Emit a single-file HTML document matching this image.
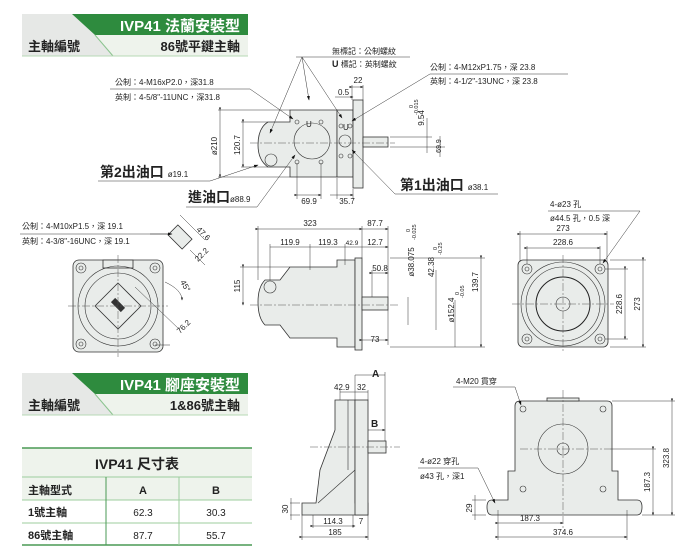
<!DOCTYPE html>
<html><head><meta charset="utf-8"><style>
html,body{margin:0;padding:0;background:#fff}
svg{display:block}
text{font-family:"Liberation Sans","Noto Sans CJK TC",sans-serif;fill:#222}
.s{font-size:8px}
.m{font-size:9px}
.b{font-weight:bold}
.body{fill:#e9ecea;stroke:#333;stroke-width:.8}
.ln{stroke:#333;stroke-width:.6;fill:none}
.c{stroke:#555;stroke-width:.5;stroke-dasharray:8 2 2 2;fill:none}
.d{stroke:#333;stroke-width:.5;fill:none}
</style></head><body>
<svg width="700" height="557" viewBox="0 0 700 557" xmlns="http://www.w3.org/2000/svg">
<defs><marker id="a" markerWidth="6" markerHeight="6" refX="5" refY="3" orient="auto"><path d="M0,0.8 L6,3 L0,5.2z" fill="#222"/></marker>
<marker id="ar" markerWidth="9" markerHeight="7" refX="8" refY="3.5" orient="auto"><path d="M0,0.5 L9,3.5 L0,6.5z" fill="#111"/></marker></defs>

<!-- Header 1 -->
<rect x="22" y="14" width="226" height="42" fill="#e6e8e6"/>
<polygon points="72,14 248,14 248,35 95,35" fill="#2e8b3e"/>
<polygon points="95,35 248,35 248,56 113,56" fill="#eef3ec"/>
<line x1="95" y1="35" x2="113" y2="56" stroke="#8bc48f" stroke-width="1"/>
<line x1="22" y1="56" x2="248" y2="56" stroke="#b7d8b5" stroke-width="1"/>
<text x="240" y="31" text-anchor="end" font-size="15" class="b" style="fill:#fff">IVP41 法蘭安裝型</text>
<text x="28" y="51" font-size="13" class="b">主軸編號</text>
<text x="240" y="51" text-anchor="end" font-size="13" class="b">86號平鍵主軸</text>

<!-- Header 2 -->
<rect x="22" y="373" width="226" height="42" fill="#e6e8e6"/>
<polygon points="72,373 248,373 248,394 95,394" fill="#2e8b3e"/>
<polygon points="95,394 248,394 248,415 113,415" fill="#eef3ec"/>
<line x1="95" y1="394" x2="113" y2="415" stroke="#8bc48f" stroke-width="1"/>
<line x1="22" y1="415" x2="248" y2="415" stroke="#b7d8b5" stroke-width="1"/>
<text x="240" y="390" text-anchor="end" font-size="15" class="b" style="fill:#fff">IVP41 腳座安裝型</text>
<text x="28" y="410" font-size="13" class="b">主軸編號</text>
<text x="240" y="410" text-anchor="end" font-size="13" class="b">1&amp;86號主軸</text>

<!-- Table -->
<rect x="22" y="448" width="230" height="97" fill="#eef3ec"/>
<rect x="22" y="500" width="230" height="45" fill="#fff"/>
<line x1="22" y1="448" x2="252" y2="448" stroke="#4a9a55" stroke-width="1.5"/>
<line x1="22" y1="477" x2="252" y2="477" stroke="#9ccc9e" stroke-width="1"/>
<line x1="22" y1="500" x2="252" y2="500" stroke="#9ccc9e" stroke-width="1"/>
<line x1="22" y1="523" x2="252" y2="523" stroke="#9ccc9e" stroke-width="1"/>
<line x1="22" y1="545" x2="252" y2="545" stroke="#4a9a55" stroke-width="1.5"/>
<line x1="106" y1="477" x2="106" y2="545" stroke="#4a9a55" stroke-width="1"/>
<line x1="179" y1="477" x2="179" y2="545" stroke="#9ccc9e" stroke-width="1"/>
<text x="137" y="469" text-anchor="middle" font-size="14" class="b">IVP41 尺寸表</text>
<text x="28" y="494" font-size="11" class="b">主軸型式</text>
<text x="143" y="494" text-anchor="middle" font-size="11" class="b">A</text>
<text x="216" y="494" text-anchor="middle" font-size="11" class="b">B</text>
<text x="28" y="516" font-size="11" class="b">1號主軸</text>
<text x="143" y="516" text-anchor="middle" font-size="10">62.3</text>
<text x="216" y="516" text-anchor="middle" font-size="10">30.3</text>
<text x="28" y="539" font-size="11" class="b">86號主軸</text>
<text x="143" y="539" text-anchor="middle" font-size="10">87.7</text>
<text x="216" y="539" text-anchor="middle" font-size="10">55.7</text>

<!-- TOP VIEW -->
<g>
<path class="body" d="M268,122 L290,122 L290,110 L337,110 L337,177 L290,177 L290,167 L268,167 Q258,160 258,145 Q258,128 268,122z"/>
<rect class="body" x="337" y="110" width="16" height="67"/>
<rect class="body" x="353" y="100" width="10" height="88"/>
<rect class="body" x="363" y="137" width="25" height="10"/>
<circle class="ln" cx="312" cy="141" r="18"/>
<circle class="ln" cx="345" cy="141" r="6"/>
<circle class="ln" cx="271" cy="160" r="6"/>
<g class="ln"><circle cx="297" cy="122" r="2"/><circle cx="321" cy="122" r="2"/><circle cx="297" cy="162" r="2"/><circle cx="321" cy="162" r="2"/><circle cx="341" cy="126" r="2"/><circle cx="350" cy="126" r="2"/><circle cx="341" cy="156" r="2"/><circle cx="350" cy="156" r="2"/></g>
<text x="306" y="127" class="s">U</text><text x="343" y="130" class="s" font-size="6">U</text>
<line class="c" x1="250" y1="143" x2="395" y2="143"/>
<!-- dims -->
<line class="d" x1="220" y1="110" x2="220" y2="177" marker-start="url(#a)" marker-end="url(#a)"/>
<line class="d" x1="218" y1="110" x2="290" y2="110"/><line class="d" x1="218" y1="177" x2="290" y2="177"/>
<text class="s" transform="translate(217,146) rotate(-90)" text-anchor="middle">ø210</text>
<line class="d" x1="243" y1="122" x2="243" y2="167" marker-start="url(#a)" marker-end="url(#a)"/>
<line class="d" x1="241" y1="122" x2="268" y2="122"/><line class="d" x1="241" y1="167" x2="268" y2="167"/>
<text class="s" transform="translate(240,145) rotate(-90)" text-anchor="middle">120.7</text>
<line class="d" x1="297" y1="163" x2="297" y2="199"/><line class="d" x1="321" y1="163" x2="321" y2="199"/>
<line class="d" x1="297" y1="195" x2="321" y2="195" marker-start="url(#a)" marker-end="url(#a)"/>
<text class="s" x="309" y="204" text-anchor="middle">69.9</text>
<line class="d" x1="337" y1="178" x2="337" y2="199"/><line class="d" x1="353" y1="189" x2="353" y2="199"/>
<line class="d" x1="330" y1="195" x2="353" y2="195" marker-end="url(#a)"/>
<text class="s" x="347" y="204" text-anchor="middle">35.7</text>
<line class="d" x1="352" y1="85" x2="352" y2="100"/><line class="d" x1="363" y1="85" x2="363" y2="100"/>
<line class="d" x1="352" y1="87" x2="363" y2="87" marker-start="url(#a)" marker-end="url(#a)"/>
<text class="s" x="358" y="83" text-anchor="middle">22</text>
<line class="d" x1="335" y1="97" x2="353" y2="97" marker-end="url(#a)"/>
<text class="s" x="338" y="95">0.5</text>
<line class="d" x1="390" y1="137" x2="432" y2="137"/><line class="d" x1="390" y1="147" x2="445" y2="147"/>
<line class="d" x1="427" y1="118" x2="427" y2="153"/>
<text class="s" transform="translate(424,118) rotate(-90)" text-anchor="middle">9.54</text>
<text font-size="5.5" transform="translate(413,108) rotate(-90)">0</text>
<text font-size="5.5" transform="translate(418,115) rotate(-90)">-0.015</text>
<line class="d" x1="440" y1="136" x2="440" y2="157"/>
<text class="s" transform="translate(441,146) rotate(-90)" text-anchor="middle" style="font-size:7px">69.9</text>
<!-- leaders -->
<line class="ln" x1="296" y1="57" x2="410" y2="57"/>
<text class="s" x="332" y="54">無標記：公制螺紋</text>
<text class="s" x="332" y="67"><tspan class="b" font-size="9">U</tspan> 標記：英制螺紋</text>
<line class="d" x1="302" y1="57" x2="270" y2="133" marker-end="url(#ar)"/>
<line class="d" x1="302" y1="57" x2="309" y2="100" marker-end="url(#ar)"/>
<line class="d" x1="302" y1="57" x2="342" y2="118" marker-end="url(#ar)"/>
<line class="ln" x1="430" y1="74" x2="568" y2="74"/>
<text class="s" x="430" y="70">公制：4-M12xP1.75，深 23.8</text>
<text class="s" x="430" y="84">英制：4-1/2"-13UNC，深 23.8</text>
<line class="d" x1="430" y1="74" x2="352" y2="121" marker-end="url(#ar)"/>
<line class="ln" x1="110" y1="89" x2="250" y2="89"/>
<text class="s" x="115" y="85">公制：4-M16xP2.0，深31.8</text>
<text class="s" x="115" y="100">英制：4-5/8"-11UNC，深31.8</text>
<line class="d" x1="250" y1="89" x2="293" y2="119" marker-end="url(#ar)"/>
<text x="100" y="177" font-size="14" class="b">第2出油口 <tspan font-size="8" font-weight="normal">ø19.1</tspan></text>
<line class="ln" x1="98" y1="181" x2="210" y2="181"/>
<line class="d" x1="210" y1="181" x2="258" y2="165" marker-end="url(#ar)"/>
<text x="188" y="202" font-size="14" class="b">進油口<tspan font-size="8" font-weight="normal">ø88.9</tspan></text>
<line class="ln" x1="186" y1="207" x2="257" y2="207"/>
<line class="d" x1="257" y1="207" x2="295" y2="155" marker-end="url(#ar)"/>
<text x="400" y="190" font-size="14" class="b">第1出油口 <tspan font-size="8" font-weight="normal">ø38.1</tspan></text>
<line class="ln" x1="395" y1="194" x2="498" y2="194"/>
<line class="d" x1="395" y1="194" x2="352" y2="150" marker-end="url(#ar)"/>
</g>

<!-- FRONT VIEW (left) -->
<g>
<rect class="body" x="73" y="260" width="90" height="92" rx="6"/>
<rect class="body" x="103" y="260" width="30" height="8"/>
<circle class="ln" cx="118" cy="306" r="40"/>
<circle class="ln" cx="118" cy="306" r="33"/>
<polygon class="body" points="118,283 141,306 118,329 95,306"/>
<rect x="111" y="302" width="14" height="6" fill="#333" transform="rotate(45 118 305)"/>
<g class="ln"><circle cx="81" cy="268" r="5"/><circle cx="81" cy="268" r="2"/><circle cx="155" cy="268" r="5"/><circle cx="155" cy="268" r="2"/><circle cx="81" cy="344" r="5"/><circle cx="81" cy="344" r="2"/><circle cx="155" cy="344" r="5"/><circle cx="155" cy="344" r="2"/></g>
<line class="c" x1="118" y1="255" x2="118" y2="357"/><line class="c" x1="68" y1="306" x2="168" y2="306"/>
<rect class="body" x="170" y="230" width="20" height="14" transform="rotate(45 180 237)"/>
<line class="ln" x1="20" y1="234" x2="170" y2="234"/>
<text class="s" x="22" y="229">公制：4-M10xP1.5，深 19.1</text>
<text class="s" x="22" y="244">英制：4-3/8"-16UNC，深 19.1</text>
<line class="d" x1="150" y1="234" x2="172" y2="234" marker-end="url(#ar)"/>
<line class="d" x1="180" y1="215" x2="205" y2="240"/>
<text class="s" transform="translate(196,230) rotate(45)">47.6</text>
<line class="d" x1="190" y1="250" x2="205" y2="265"/>
<text class="s" transform="translate(198,262) rotate(-45)">22.2</text>
<path class="d" d="M165,282 Q182,290 182,300" marker-end="url(#a)"/>
<text class="s" transform="translate(180,282) rotate(60)">45°</text>
<line class="d" x1="135" y1="287" x2="180" y2="330"/><line class="d" x1="155" y1="345" x2="170" y2="345"/>
<text class="s" transform="translate(180,334) rotate(-45)">76.2</text>
</g>

<!-- SIDE VIEW (middle) -->
<g>
<path class="body" d="M265,280 L280,280 L290,267 L337,267 L337,260 L355,260 L355,347 L337,347 L337,338 L290,338 L280,325 L265,325 Q258,318 258,302 Q258,287 265,280z"/>
<rect class="body" x="355" y="258" width="7" height="92"/>
<rect class="body" x="362" y="297" width="26" height="13"/>
<circle class="ln" cx="270" cy="287" r="6"/>
<line class="c" x1="250" y1="305" x2="400" y2="305"/>
<line class="d" x1="258" y1="226" x2="258" y2="280"/><line class="d" x1="362" y1="226" x2="362" y2="258"/><line class="d" x1="388" y1="226" x2="388" y2="297"/>
<line class="d" x1="258" y1="229" x2="362" y2="229" marker-start="url(#a)" marker-end="url(#a)"/>
<line class="d" x1="362" y1="229" x2="388" y2="229" marker-end="url(#a)"/>
<text class="s" x="310" y="226" text-anchor="middle">323</text><text class="s" x="375" y="226" text-anchor="middle">87.7</text>
<line class="d" x1="270" y1="247" x2="360" y2="247"/>
<line class="d" x1="270" y1="244" x2="270" y2="280"/><line class="d" x1="310" y1="244" x2="310" y2="270"/><line class="d" x1="345" y1="244" x2="345" y2="265"/>
<line class="d" x1="360" y1="247" x2="388" y2="247" marker-end="url(#a)"/>
<text class="s" x="290" y="245" text-anchor="middle">119.9</text><text class="s" x="328" y="245" text-anchor="middle">119.3</text>
<text x="352" y="245" text-anchor="middle" font-size="6.5">42.9</text><text class="s" x="375" y="245" text-anchor="middle">12.7</text>
<line class="d" x1="240" y1="267" x2="290" y2="267"/>
<line class="d" x1="243" y1="267" x2="243" y2="305" marker-start="url(#a)" marker-end="url(#a)"/>
<text class="s" transform="translate(240,286) rotate(-90)" text-anchor="middle">115</text>
<line class="d" x1="372" y1="273" x2="388" y2="273" marker-start="url(#a)" marker-end="url(#a)"/>
<line class="d" x1="372" y1="270" x2="372" y2="297"/>
<text class="s" x="380" y="271" text-anchor="middle">50.8</text>
<line class="d" x1="362" y1="340" x2="388" y2="340" marker-start="url(#a)" marker-end="url(#a)"/>
<line class="d" x1="388" y1="310" x2="388" y2="345"/>
<text class="s" x="375" y="342" text-anchor="middle">73</text>
<line class="d" x1="390" y1="258" x2="485" y2="258"/><line class="d" x1="390" y1="347" x2="485" y2="347"/>
<line class="d" x1="408" y1="297" x2="408" y2="325"/><line class="d" x1="436" y1="270" x2="436" y2="330"/><line class="d" x1="455" y1="300" x2="455" y2="347"/><line class="d" x1="481" y1="258" x2="481" y2="347" marker-start="url(#a)" marker-end="url(#a)"/>
<text class="s" transform="translate(414,262) rotate(-90)" text-anchor="middle">ø38.075</text>
<text font-size="5.5" transform="translate(410,232) rotate(-90)">0</text><text font-size="5.5" transform="translate(416,240) rotate(-90)">-0.025</text>
<text class="s" transform="translate(434,267) rotate(-90)" text-anchor="middle">42.38</text>
<text font-size="5.5" transform="translate(437,250) rotate(-90)">0</text><text font-size="5.5" transform="translate(442,255) rotate(-90)">-0.25</text>
<text class="s" transform="translate(454,310) rotate(-90)" text-anchor="middle">ø152.4</text>
<text font-size="5.5" transform="translate(459,295) rotate(-90)">0</text><text font-size="5.5" transform="translate(464,298) rotate(-90)">-0.05</text>
<text class="s" transform="translate(478,282) rotate(-90)" text-anchor="middle">139.7</text>
</g>

<!-- REAR VIEW (right) -->
<g>
<rect class="body" x="518" y="260" width="90" height="87" rx="5"/>
<circle class="ln" cx="563" cy="304" r="42"/><circle class="ln" cx="563" cy="304" r="37"/>
<circle fill="none" stroke="#222" stroke-width="1" cx="563" cy="304" r="27"/>
<circle class="ln" cx="563" cy="304" r="7"/>
<g class="ln"><circle cx="527" cy="269" r="5"/><circle cx="527" cy="269" r="2"/><circle cx="600" cy="269" r="5"/><circle cx="600" cy="269" r="2"/><circle cx="527" cy="339" r="5"/><circle cx="527" cy="339" r="2"/><circle cx="600" cy="339" r="5"/><circle cx="600" cy="339" r="2"/></g>
<line class="c" x1="563" y1="255" x2="563" y2="352"/><line class="c" x1="512" y1="304" x2="614" y2="304"/>
<line class="d" x1="520" y1="234" x2="607" y2="234" marker-start="url(#a)" marker-end="url(#a)"/>
<line class="d" x1="520" y1="231" x2="520" y2="262"/><line class="d" x1="607" y1="231" x2="607" y2="262"/>
<text class="s" x="563" y="231" text-anchor="middle">273</text>
<line class="d" x1="527" y1="248" x2="600" y2="248" marker-start="url(#a)" marker-end="url(#a)"/>
<line class="d" x1="527" y1="246" x2="527" y2="264"/><line class="d" x1="600" y1="246" x2="600" y2="264"/>
<text class="s" x="563" y="245" text-anchor="middle">228.6</text>
<line class="d" x1="605" y1="269" x2="628" y2="269"/><line class="d" x1="605" y1="339" x2="628" y2="339"/>
<line class="d" x1="625" y1="269" x2="625" y2="339" marker-start="url(#a)" marker-end="url(#a)"/>
<text class="s" transform="translate(622,304) rotate(-90)" text-anchor="middle">228.6</text>
<line class="d" x1="610" y1="260" x2="646" y2="260"/><line class="d" x1="610" y1="347" x2="646" y2="347"/>
<line class="d" x1="643" y1="260" x2="643" y2="347" marker-start="url(#a)" marker-end="url(#a)"/>
<text class="s" transform="translate(640,304) rotate(-90)" text-anchor="middle">273</text>
<line class="ln" x1="548" y1="211" x2="640" y2="211"/>
<text class="s" x="550" y="207">4-ø23 孔</text>
<text class="s" x="550" y="221">ø44.5 孔，0.5 深</text>
<line class="d" x1="640" y1="211" x2="603" y2="263" marker-end="url(#ar)"/>
</g>

<!-- FOOT SIDE VIEW -->
<g>
<path class="body" d="M335,400 L355,400 L355,503 L368,503 L368,515 L302,515 L302,503 L316,503 L320,470 L335,430z"/>
<rect class="body" x="355" y="400" width="13" height="115"/>
<line class="ln" x1="318" y1="503" x2="355" y2="470"/>
<line class="ln" x1="348" y1="400" x2="348" y2="470"/>
<rect class="body" x="368" y="441" width="18" height="12"/>
<line class="c" x1="310" y1="447" x2="400" y2="447"/>
<line class="d" x1="355" y1="375" x2="385" y2="375"/>
<line class="d" x1="355" y1="375" x2="355" y2="400"/><line class="d" x1="385" y1="372" x2="385" y2="441"/>
<text x="372" y="377" font-size="10" class="b">A</text>
<line class="d" x1="340" y1="392" x2="368" y2="392"/><line class="d" x1="368" y1="390" x2="368" y2="400"/><line class="d" x1="340" y1="390" x2="340" y2="400"/>
<text class="s" x="334" y="390">42.9</text><text class="s" x="357" y="390">32</text>
<line class="d" x1="368" y1="430" x2="385" y2="430" marker-end="url(#a)"/>
<text x="371" y="427" font-size="10" class="b">B</text>
<line class="d" x1="302" y1="515" x2="302" y2="540"/><line class="d" x1="368" y1="515" x2="368" y2="540"/>
<line class="d" x1="313" y1="515" x2="313" y2="528"/><line class="d" x1="353" y1="515" x2="353" y2="528"/>
<line class="d" x1="313" y1="526" x2="355" y2="526" marker-start="url(#a)" marker-end="url(#a)"/>
<line class="d" x1="302" y1="537" x2="368" y2="537" marker-start="url(#a)" marker-end="url(#a)"/>
<text class="s" x="333" y="524" text-anchor="middle">114.3</text><text class="s" x="361" y="524" text-anchor="middle">7</text>
<text class="s" x="335" y="535" text-anchor="middle">185</text>
<line class="d" x1="290" y1="503" x2="300" y2="503"/><line class="d" x1="290" y1="515" x2="300" y2="515"/>
<line class="d" x1="291" y1="498" x2="291" y2="520"/>
<text class="s" transform="translate(288,509) rotate(-90)" text-anchor="middle">30</text>
</g>

<!-- FOOT FRONT VIEW -->
<g>
<path class="body" d="M520,401 L607,401 Q612,401 612,406 L612,471 L618,471 L618,500 L637,500 Q642,500 642,507 Q642,515 637,515 L492,515 Q487,515 487,507 Q487,500 492,500 L508,500 L508,471 L515,471 L515,406 Q515,401 520,401z"/>
<rect class="body" x="547" y="398" width="32" height="3"/>
<circle class="ln" cx="563" cy="449" r="25"/><circle class="ln" cx="563" cy="449" r="6"/>
<g class="ln"><circle cx="523" cy="409" r="3"/><circle cx="603" cy="409" r="3"/><circle cx="523" cy="489" r="3"/><circle cx="603" cy="489" r="3"/></g>
<line class="c" x1="563" y1="390" x2="563" y2="530"/><line class="c" x1="520" y1="449" x2="610" y2="449"/>
<line class="d" x1="612" y1="401" x2="675" y2="401"/><line class="d" x1="642" y1="515" x2="675" y2="515"/><line class="d" x1="610" y1="449" x2="656" y2="449"/>
<line class="d" x1="672" y1="401" x2="672" y2="515" marker-start="url(#a)" marker-end="url(#a)"/>
<line class="d" x1="653" y1="449" x2="653" y2="515" marker-start="url(#a)" marker-end="url(#a)"/>
<text class="s" transform="translate(669,458) rotate(-90)" text-anchor="middle">323.8</text>
<text class="s" transform="translate(650,482) rotate(-90)" text-anchor="middle">187.3</text>
<line class="d" x1="498" y1="510" x2="498" y2="540"/><line class="d" x1="627" y1="510" x2="627" y2="540"/>
<line class="d" x1="498" y1="523" x2="563" y2="523" marker-start="url(#a)" marker-end="url(#a)"/>
<line class="d" x1="498" y1="537" x2="627" y2="537" marker-start="url(#a)" marker-end="url(#a)"/>
<text class="s" x="530" y="521" text-anchor="middle">187.3</text><text class="s" x="563" y="535" text-anchor="middle">374.6</text>
<line class="d" x1="472" y1="500" x2="486" y2="500"/><line class="d" x1="472" y1="515" x2="486" y2="515"/>
<line class="d" x1="475" y1="495" x2="475" y2="520"/>
<text class="s" transform="translate(472,508) rotate(-90)" text-anchor="middle">29</text>
<line class="ln" x1="453" y1="387" x2="515" y2="387"/>
<text class="s" x="456" y="384">4-M20 貫穿</text>
<line class="d" x1="515" y1="387" x2="521" y2="405" marker-end="url(#ar)"/>
<line class="ln" x1="418" y1="468" x2="478" y2="468"/>
<text class="s" x="420" y="464">4-ø22 穿孔</text>
<text class="s" x="420" y="479">ø43 孔，深1</text>
<line class="d" x1="478" y1="468" x2="495" y2="503" marker-end="url(#ar)"/>
</g>
</svg>
</body></html>
